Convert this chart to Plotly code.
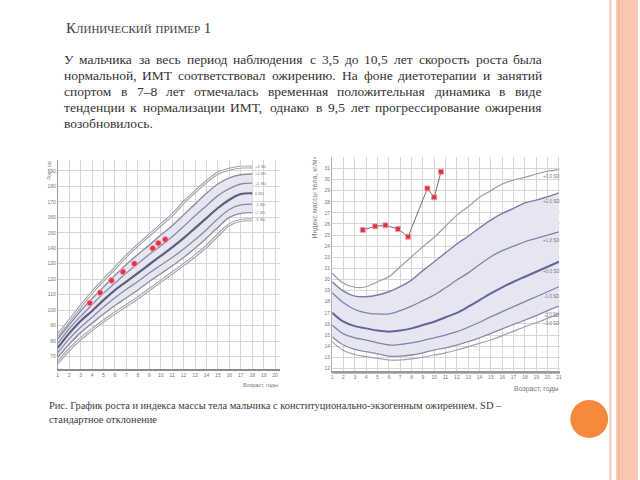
import plotly.graph_objects as go

W, H = 640, 480
def px(x): return x / W
def py(y): return 1 - y / H

# ---------------- text ----------------
title_text = "Клинический пример 1"
body_lines = [
    "У мальчика за весь период наблюдения с 3,5 до 10,5 лет скорость роста была",
    "нормальной, ИМТ соответствовал ожирению. На фоне диетотерапии и занятий",
    "спортом в 7–8 лет отмечалась временная положительная динамика в виде",
    "тенденции к нормализации ИМТ, однако в 9,5 лет прогрессирование ожирения",
    "возобновилось.",
]
caption_lines = [
    "Рис. График роста и индекса массы тела мальчика с конституционально-экзогенным ожирением. SD –",
    "стандартное отклонение",
]

# ---------------- height chart data ----------------
height_ages = list(range(1, 19))
height_p3 = [84, 93, 102.5, 111.5, 119.5, 127, 135, 142, 148.5, 155, 161.5, 169.5, 176.5, 183, 188.5, 191, 192.4, 192.5]
height_p2 = [81.5, 90.5, 99.5, 107.5, 115, 122.5, 129.5, 136, 142, 148.5, 154.5, 161.5, 168.5, 175.5, 181.5, 185.5, 187.5, 188]
height_p1 = [78.5, 88, 96, 103.5, 111, 117.5, 124, 130, 136, 141.5, 147.5, 154, 161, 167.5, 174, 178.5, 181.5, 182]
height_m0 = [75.6, 85, 93, 99.5, 106.5, 113, 118.5, 124, 129.5, 135, 140.5, 146.5, 153, 159.5, 166, 171.3, 175, 175.5]
height_m1 = [72.5, 81.5, 89, 95.5, 102, 108, 113.5, 118.5, 124, 129, 134, 139.5, 145.5, 152, 159, 165, 168, 168.5]
height_m2 = [69.5, 78, 85.5, 91.5, 97.5, 103, 108, 113, 118.5, 123.5, 128.5, 134, 140, 146.5, 153.5, 160, 162.5, 163]
height_m3 = [66, 74.5, 81.5, 87.4, 93, 98.2, 103, 107.9, 113.3, 118.6, 124, 129.4, 135, 141.2, 148.5, 155.2, 158, 158.4]
height_sd_labels = ["+3 SD", "+2 SD", "+1 SD", "0 SD", "-1 SD", "-2 SD", "-3 SD"]
height_xticks = list(range(1, 21))
height_yticks = list(range(70, 191, 10))

patient_ages_h = [3.8, 4.7, 5.7, 6.7, 7.7, 9.3, 9.8, 10.4]
patient_height = [104.6, 111.3, 119.2, 124.8, 130.0, 139.9, 143.3, 145.7]

# ---------------- BMI chart data ----------------
bmi_ages = list(range(1, 22))
bmi_p3 = [20.56, 19.66, 19.3, 19.35, 19.8, 20.25, 21.15, 22.05, 22.95, 23.8, 24.8, 25.8, 26.55, 27.4, 28.0, 28.6, 28.96, 29.2, 29.5, 29.75, 29.9]
bmi_p2 = [19.8, 18.95, 18.5, 18.45, 18.6, 18.9, 19.35, 19.95, 20.8, 21.6, 22.4, 23.2, 23.9, 24.65, 25.35, 25.95, 26.4, 26.9, 27.15, 27.45, 27.8]
bmi_p1 = [18.8, 17.9, 17.3, 17.0, 16.9, 16.9, 17.2, 17.6, 18.1, 18.6, 19.25, 19.95, 20.6, 21.35, 22.05, 22.6, 23.0, 23.4, 23.7, 24.0, 24.3]
bmi_m0 = [17.0, 16.2, 15.8, 15.6, 15.4, 15.3, 15.4, 15.6, 15.9, 16.2, 16.6, 17.0, 17.55, 18.15, 18.75, 19.3, 19.8, 20.25, 20.7, 21.15, 21.6]
bmi_m1 = [15.9, 15.1, 14.75, 14.55, 14.3, 14.1, 14.15, 14.3, 14.5, 14.75, 15.0, 15.3, 15.7, 16.15, 16.65, 17.1, 17.55, 18.0, 18.45, 18.9, 19.35]
bmi_m2 = [14.85, 14.1, 13.7, 13.5, 13.3, 13.1, 13.1, 13.2, 13.4, 13.65, 13.85, 14.1, 14.4, 14.75, 15.15, 15.55, 15.95, 16.35, 16.75, 17.2, 17.6]
bmi_m3 = [14.4, 13.6, 13.25, 13.05, 12.9, 12.75, 12.75, 12.85, 13.0, 13.2, 13.4, 13.65, 13.95, 14.25, 14.55, 14.95, 15.35, 15.75, 16.1, 16.5, 16.9]
bmi_sd_labels = ["+3.0 SD", "+2.0 SD", "+1.0 SD", "+0.0 SD", "-1.0 SD", "-2.0 SD", "-3.0 SD"]
bmi_xticks = list(range(1, 22))
bmi_yticks = list(range(12, 31))
bmi_yticktext = ["12", "13", "14", "15", "16", "17", "18", "19", "20", "21",
                 "23", "24", "25", "26", "27", "28", "29", "30", "31"]

patient_ages_b = [3.7, 4.8, 5.7, 6.8, 7.7, 9.4, 10.0, 10.6]
patient_bmi = [24.46, 24.79, 24.88, 24.55, 23.86, 28.2, 27.4, 29.7]

# ---------------- figure ----------------
fig = go.Figure()

SHADE = "#e6e6f2"

def add_band(xs, lo, hi, xa, ya):
    fig.add_trace(go.Scatter(x=xs, y=lo, mode="lines", line=dict(width=0, shape="spline"),
                             xaxis=xa, yaxis=ya, hoverinfo="skip", showlegend=False))
    fig.add_trace(go.Scatter(x=xs, y=hi, mode="lines", line=dict(width=0, shape="spline"),
                             fill="tonexty", fillcolor=SHADE,
                             xaxis=xa, yaxis=ya, hoverinfo="skip", showlegend=False))

def add_line(xs, ys, color, width, xa, ya):
    fig.add_trace(go.Scatter(x=xs, y=ys, mode="lines", line=dict(color=color, width=width, shape="spline"),
                             xaxis=xa, yaxis=ya, hoverinfo="skip", showlegend=False))

# left: height
add_band(height_ages, height_m2, height_p2, "x", "y")
h_curves = [height_p3, height_p2, height_p1, height_m0, height_m1, height_m2, height_m3]
h_styles = [("#a2a2ae", 3.0), ("#8e8ea0", 1.4), ("#8a8aa2", 1.3), ("#5e5e7e", 2.2),
            ("#8a8aa2", 1.3), ("#8e8ea0", 1.4), ("#a2a2ae", 3.0)]
for ys, (c, w) in zip(h_curves, h_styles):
    add_line(height_ages, ys, c, w, "x", "y")
for ys in (height_p3, height_m3):
    add_line(height_ages, ys, "#ffffff", 1.0, "x", "y")

fig.add_trace(go.Scatter(x=patient_ages_h, y=patient_height, mode="markers",
                         marker=dict(color="#e2334b", size=6, line=dict(color="#f4a7b0", width=1)),
                         xaxis="x", yaxis="y", hoverinfo="skip", showlegend=False))

# right: BMI
add_band(bmi_ages, bmi_m2, bmi_p2, "x2", "y2")
b_curves = [bmi_p3, bmi_p2, bmi_p1, bmi_m0, bmi_m1, bmi_m2, bmi_m3]
b_styles = [("#9c9cac", 1.2), ("#7c7ca4", 1.4), ("#8282a8", 1.3), ("#64649a", 2.0),
            ("#8282a8", 1.3), ("#8a8aaa", 1.3), ("#a0a0b2", 1.2)]
for ys, (c, w) in zip(b_curves, b_styles):
    add_line(bmi_ages, ys, c, w, "x2", "y2")

fig.add_trace(go.Scatter(x=patient_ages_b, y=patient_bmi, mode="lines+markers",
                         line=dict(color="#6e6e6e", width=1),
                         marker=dict(color="#e2304a", size=5, symbol="square",
                                     line=dict(color="#f2a0aa", width=0.8)),
                         xaxis="x2", yaxis="y2", hoverinfo="skip", showlegend=False))

tickfont = dict(family="Liberation Sans", size=5, color="#777777")
grid = "#d6d6d6"

fig.update_layout(
    width=W, height=H, margin=dict(l=0, r=0, t=0, b=0),
    paper_bgcolor="white", plot_bgcolor="white", showlegend=False,
    xaxis=dict(domain=[px(57), px(280)], range=[1, 20.4], tickvals=height_xticks,
               showgrid=True, gridcolor=grid, gridwidth=1, zeroline=False,
               showline=True, linecolor="#8c8c8c", linewidth=1.5, ticks="",
               tickfont=tickfont, anchor="y", fixedrange=True),
    yaxis=dict(domain=[py(369), py(160)], range=[62, 197], tickvals=height_yticks,
               showgrid=True, gridcolor=grid, gridwidth=1, zeroline=False,
               showline=True, linecolor="#9a9a9a", linewidth=1, ticks="",
               tickfont=tickfont, anchor="x", fixedrange=True),
    xaxis2=dict(domain=[px(332.7), px(561.7)], range=[1, 21.1], tickvals=bmi_xticks,
                showgrid=True, gridcolor=grid, gridwidth=1, zeroline=False,
                showline=True, linecolor="#9a9a9a", linewidth=1.5, ticks="",
                tickfont=tickfont, anchor="y2", fixedrange=True),
    yaxis2=dict(domain=[py(371), py(156.7)], range=[11.76, 31.06], tickvals=bmi_yticks,
                ticktext=bmi_yticktext,
                showgrid=True, gridcolor=grid, gridwidth=1, zeroline=False,
                showline=True, linecolor="#b0b0b0", linewidth=1, ticks="",
                tickfont=tickfont, anchor="x2", fixedrange=True),
)

ann = []
# SD labels
for ys, lab in zip(h_curves, height_sd_labels):
    ann.append(dict(x=18.1, y=ys[-1], xref="x", yref="y", text=lab, showarrow=False,
                    xanchor="left", yanchor="middle",
                    font=dict(family="Liberation Sans", size=4, color="#777777")))
for ys, lab in zip(b_curves, bmi_sd_labels):
    ann.append(dict(x=20.35, y=ys[-2] - 0.45, xref="x2", yref="y2", text=lab, showarrow=False,
                    xanchor="center", yanchor="middle",
                    font=dict(family="Liberation Sans", size=4.5, color="#777777")))

# axis titles
ann.append(dict(x=px(43), y=py(170), xref="paper", yref="paper", text="Рост, см", textangle=-90,
                showarrow=False, font=dict(family="Liberation Sans", size=5, color="#777777")))
ann.append(dict(x=px(315), y=py(198), xref="paper", yref="paper", text="Индекс массы тела, кг/м²",
                textangle=-90, showarrow=False,
                font=dict(family="Liberation Sans", size=7, color="#777777")))
ann.append(dict(x=px(280), y=py(385), xref="paper", yref="paper", text="Возраст, годы",
                xanchor="right", yanchor="middle", showarrow=False,
                font=dict(family="Liberation Sans", size=5.5, color="#777777")))
ann.append(dict(x=px(563), y=py(389), xref="paper", yref="paper", text="Возраст, годы",
                xanchor="right", yanchor="middle", showarrow=False,
                font=dict(family="Liberation Sans", size=7, color="#777777")))

# Title
ann.append(dict(x=px(63), y=py(28), xref="paper", yref="paper", text=title_text,
                xanchor="left", yanchor="middle", showarrow=False,
                font=dict(family="Liberation Serif", size=15, color="#404040", variant="small-caps")))

# Justified body text, word by word
CW = {
 'а':444,'б':500,'в':472,'г':410,'д':509,'е':444,'ж':691,'з':395,'и':535,'й':535,'к':486,'л':499,
 'м':633,'н':535,'о':500,'п':535,'р':500,'с':444,'т':437,'у':500,'ф':648,'х':500,'ц':535,'ч':503,
 'ш':770,'щ':770,'ъ':517,'ы':672,'ь':456,'э':429,'ю':747,'я':460,
 'У':650,'И':722,'М':889,'Т':611,'Н':722,'S':556,'D':722,
 ',':250,'.':250,' ':250,'–':500,'-':333,
}
def tw(s, size):
    return sum(CW.get(ch, 500) for ch in s) / 1000 * size

BODY_SIZE = 13.5
X0, X1 = 62, 542
line_y = [59, 75.3, 91.5, 107.8, 124]
for i, (line, yy) in enumerate(zip(body_lines, line_y)):
    words = line.split(" ")
    justify = i < len(body_lines) - 1 and len(words) > 1
    widths = [tw(w, BODY_SIZE) for w in words]
    if justify:
        gap = (X1 - X0 - sum(widths)) / (len(words) - 1)
    else:
        gap = tw(" ", BODY_SIZE)
    x = X0
    for w, wd in zip(words, widths):
        ann.append(dict(x=px(x), y=py(yy), xref="paper", yref="paper", text=w,
                        xanchor="left", yanchor="middle", showarrow=False, borderpad=0,
                        font=dict(family="Liberation Serif", size=BODY_SIZE, color="#333333")))
        x += wd + gap

# caption
for line, yy in zip(caption_lines, [405, 419]):
    ann.append(dict(x=px(46), y=py(yy), xref="paper", yref="paper", text=line,
                    xanchor="left", yanchor="middle", showarrow=False,
                    font=dict(family="Liberation Serif", size=10.4, color="#3a3a3a")))

fig.update_layout(annotations=ann)

# slide decorations
shapes = [
    dict(type="rect", xref="paper", yref="paper", x0=px(611), x1=px(613.5), y0=0, y1=1,
         fillcolor="#f8cfc3", line=dict(width=0), layer="above"),
    dict(type="rect", xref="paper", yref="paper", x0=px(618), x1=1, y0=0, y1=1,
         fillcolor="#fbc6b2", line=dict(width=0), layer="above"),
    dict(type="rect", xref="paper", yref="paper", x0=px(620), x1=px(621.5), y0=0, y1=1,
         fillcolor="#f3ae95", line=dict(width=0), layer="above"),
    dict(type="rect", xref="paper", yref="paper", x0=px(624), x1=px(625), y0=0, y1=1,
         fillcolor="#f6bba5", line=dict(width=0), layer="above"),
    dict(type="circle", xref="paper", yref="paper", x0=px(572), x1=px(610), y0=py(438), y1=py(400),
         fillcolor="#f58a3c", line=dict(width=0), layer="above"),
    dict(type="line", xref="paper", yref="paper", x0=px(332.7), x1=px(561.7), y0=py(373.5), y1=py(373.5),
         line=dict(color="#b8b8b8", width=1), layer="above"),
]
fig.update_layout(shapes=shapes)

fig.write_html("out.html", config={"displayModeBar": False})
